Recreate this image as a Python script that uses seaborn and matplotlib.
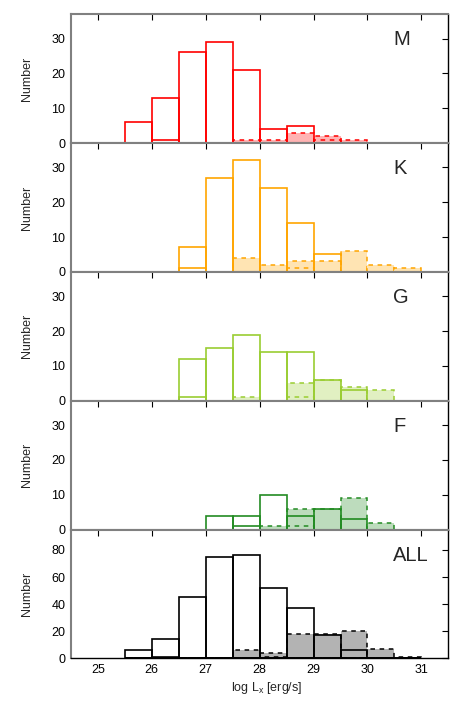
import seaborn as sns
import matplotlib.pyplot as plt
from matplotlib.colors import to_rgba

# bin edges of log Lx (0.5 dex bins)
edges = [25.5, 26.0, 26.5, 27.0, 27.5, 28.0, 28.5, 29.0, 29.5, 30.0, 30.5, 31.0]
centers = [25.75, 26.25, 26.75, 27.25, 27.75, 28.25, 28.75, 29.25, 29.75, 30.25, 30.75]

panels = ["M", "K", "G", "F", "ALL"]
colors = ["#ff0000", "#ffa500", "#9acd32", "#228b22", "#000000"]

# solid histograms
solid_M = [6, 13, 26, 29, 21, 4, 5, 0, 0, 0, 0]
solid_K = [0, 0, 7, 27, 32, 24, 14, 5, 0, 0, 0]
solid_G = [0, 0, 12, 15, 19, 14, 14, 6, 3, 0, 0]
solid_F = [0, 0, 0, 4, 4, 10, 4, 6, 3, 0, 0]
solid_ALL = [6, 14, 45, 75, 76, 52, 37, 17, 6, 0, 0]

# small solid histograms
inner_M = [0, 1, 0, 0, 0, 0, 0, 0, 0, 0, 0]
inner_K = [0, 0, 1, 0, 0, 0, 0, 0, 0, 0, 0]
inner_G = [0, 0, 1, 0, 0, 0, 0, 0, 0, 0, 0]
inner_F = [0, 0, 0, 0, 1, 0, 0, 0, 0, 0, 0]
inner_ALL = [0, 1, 0, 0, 0, 0, 0, 0, 0, 0, 0]

# dashed filled histograms
dashed_M = [0, 0, 0, 0, 1, 1, 3, 2, 1, 0, 0]
dashed_K = [0, 0, 0, 0, 4, 2, 3, 3, 6, 2, 1]
dashed_G = [0, 0, 0, 0, 1, 0, 5, 6, 4, 3, 0]
dashed_F = [0, 0, 0, 0, 0, 1, 6, 6, 9, 2, 0]
dashed_ALL = [0, 0, 0, 0, 6, 4, 18, 18, 20, 7, 1]

# small dashed histograms
dinner_M = [0, 0, 0, 0, 0, 0, 0, 1, 0, 0, 0]
dinner_K = [0, 0, 0, 0, 0, 0, 1, 0, 0, 0, 0]
dinner_G = [0, 0, 0, 0, 0, 0, 1, 0, 0, 0, 0]
dinner_F = [0, 0, 0, 0, 0, 0, 1, 0, 0, 0, 0]
dinner_ALL = [0, 0, 0, 0, 0, 1, 0, 0, 0, 0, 0]

solid = [solid_M, solid_K, solid_G, solid_F, solid_ALL]
inner = [inner_M, inner_K, inner_G, inner_F, inner_ALL]
dashed = [dashed_M, dashed_K, dashed_G, dashed_F, dashed_ALL]
dinner = [dinner_M, dinner_K, dinner_G, dinner_F, dinner_ALL]

sns.set_style("white")
plt.rcParams['font.family'] = ['Liberation Sans', 'DejaVu Sans']
plt.rcParams['mathtext.fontset'] = 'custom'
plt.rcParams['mathtext.rm'] = 'Liberation Sans'

fig, axes = plt.subplots(5, 1, figsize=(4.72, 7.08), dpi=100, sharex=True)
fig.subplots_adjust(left=0.15, right=0.95, top=0.98, bottom=0.07, hspace=0)

for i, ax in enumerate(axes):
	c = colors[i]
	r, g, b, _ = to_rgba(c)
	light = (1 - 0.3 * (1 - r), 1 - 0.3 * (1 - g), 1 - 0.3 * (1 - b))

	sns.histplot(x=centers, weights=dashed[i], bins=edges, fill=True,
				 facecolor=light, edgecolor=c, linestyle=(0, (3, 3)),
				 linewidth=1.1, ax=ax)
	sns.histplot(x=centers, weights=dinner[i], bins=edges, fill=False,
				 color=c, alpha=1, linestyle=(0, (3, 3)), linewidth=1.1, ax=ax)
	sns.histplot(x=centers, weights=solid[i], bins=edges, fill=False,
				 color=c, alpha=1, linewidth=1.2, ax=ax)
	sns.histplot(x=centers, weights=inner[i], bins=edges, fill=False,
				 color=c, alpha=1, linewidth=1.2, ax=ax)

	ax.set_xlim(24.5, 31.5)
	if panels[i] == "ALL":
		ax.set_ylim(0, 95)
		ax.set_yticks([0, 20, 40, 60, 80])
	else:
		ax.set_ylim(0, 37)
		ax.set_yticks([0, 10, 20, 30])
	ax.set_xticks([25, 26, 27, 28, 29, 30, 31])
	ax.tick_params(direction='in', length=4, width=0.8, top=True, right=True,
				   labelsize=9, colors='black', pad=4)
	ax.set_ylabel("Number", fontsize=9)
	ax.set_xlabel("")
	for s in ['left', 'bottom', 'top']:
		ax.spines[s].set_color('#808080')
		ax.spines[s].set_linewidth(1.5)
	ax.spines['right'].set_color('black')
	ax.spines['right'].set_linewidth(1.0)
	if panels[i] == "ALL":
		ax.spines['bottom'].set_color('black')
		ax.spines['bottom'].set_linewidth(1.0)
	ax.text(0.853, 0.80, panels[i], transform=ax.transAxes, ha='left',
			va='center', fontsize=14.5)
	ax.yaxis.set_label_coords(-0.10, 0.5)

axes[-1].set_xlabel("log L$_\\mathregular{x}$ [erg/s]", fontsize=9)
axes[-1].xaxis.set_label_coords(0.52, -0.17)

plt.savefig("out.png", dpi=100)
